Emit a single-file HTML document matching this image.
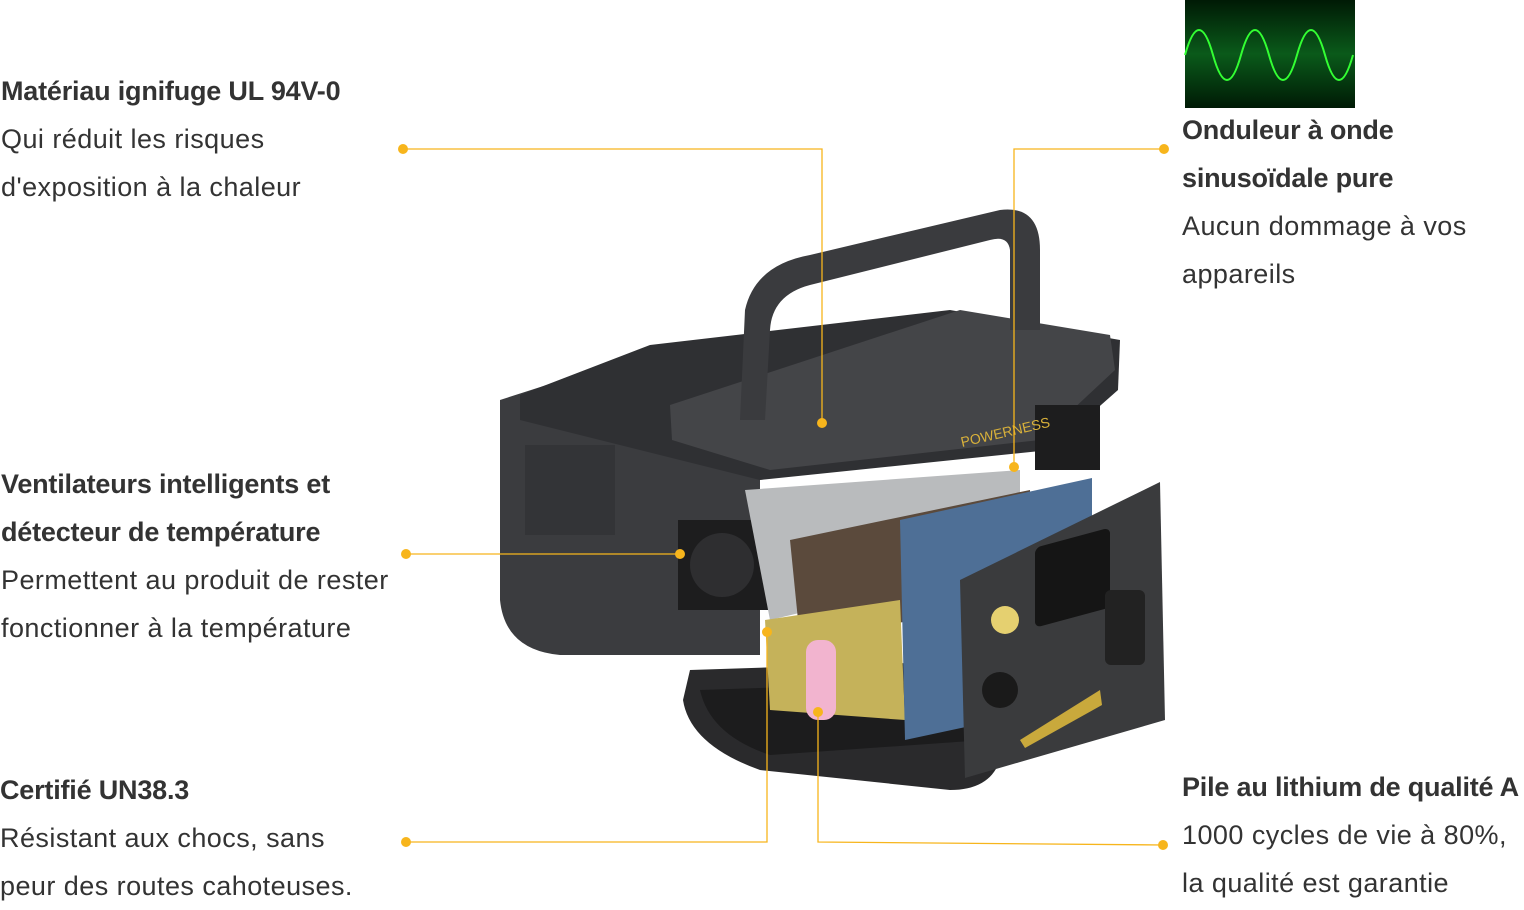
<!DOCTYPE html>
<html><head><meta charset="utf-8"><style>
body{margin:0;width:1524px;height:902px;background:#fff;overflow:hidden;position:relative;font-family:"Liberation Sans",Arial,sans-serif;color:#333}
.t{position:absolute;font-size:27px;line-height:48px;white-space:nowrap;letter-spacing:0.45px}
.b{font-weight:bold;letter-spacing:-0.2px}
</style></head><body>
<svg width="1524" height="902" style="position:absolute;left:0;top:0">
<defs><linearGradient id="g" x1="0" x2="0" y1="0" y2="1"><stop offset="0" stop-color="#001a05"/><stop offset=".5" stop-color="#0a5a1a"/><stop offset="1" stop-color="#001a05"/></linearGradient></defs>
<rect x="1185" y="0" width="170" height="108" fill="url(#g)"/>
<path d="M1185 55 Q1199 5 1213 55 T1241 55 T1269 55 T1297 55 T1325 55 T1353 55" stroke="#3f3" stroke-width="2" fill="none"/>
<path d="M690 670 L1000 660 L1000 760 Q990 790 950 790 L760 770 Q690 745 683 700 Z" fill="#2a2a2c"/>
<path d="M700 690 L990 680 L985 740 L770 755 Q710 735 700 690Z" fill="#1c1c1d"/>
<path d="M500 400 L640 355 L760 360 L760 655 L560 655 Q505 650 500 600 Z" fill="#3b3c3f"/>
<rect x="525" y="445" width="90" height="90" fill="#333437"/>
<path d="M520 395 L650 345 L950 310 L1120 340 L1118 390 L1050 450 L760 480 L520 420 Z" fill="#2f3033"/>
<path d="M670 405 L960 310 L1110 335 L1115 370 L1040 440 L770 470 L672 440 Z" fill="#444548"/>
<path d="M740 420 L745 310 Q755 265 810 255 L1000 210 Q1040 205 1040 250 L1040 330 L1010 330 L1010 250 Q1008 235 990 240 L810 285 Q772 295 770 330 L765 420 Z" fill="#3a3b3e"/>
<rect x="678" y="520" width="90" height="90" fill="#1d1d1e"/>
<circle cx="722" cy="565" r="32" fill="#2e2e30"/>
<rect x="1035" y="405" width="65" height="65" fill="#1d1d1e"/>
<path d="M745 490 L1020 470 L1020 560 L770 620 Z" fill="#b9bbbd"/>
<path d="M790 540 L1030 490 L1030 600 L800 640 Z" fill="#5b4a3c"/>
<path d="M765 620 L900 600 L905 720 L770 710 Z" fill="#c5b25a"/>
<rect x="806" y="640" width="30" height="80" rx="12" fill="#f2b4cf"/>
<path d="M900 520 L1092 478 L1092 700 L905 740 Z" fill="#4e6f96"/>
<path d="M960 580 L1160 482 L1165 720 L965 778 Z" fill="#3a3b3d"/>
<rect x="1035" y="545" width="75" height="80" rx="6" fill="#151515" transform="skewY(-15) translate(0,280)"/>
<circle cx="1005" cy="620" r="14" fill="#e5d070"/>
<circle cx="1000" cy="690" r="18" fill="#1a1a1a"/>
<rect x="1105" y="590" width="40" height="75" rx="6" fill="#222"/>
<path d="M1020 740 L1100 690 L1102 705 L1025 748Z" fill="#c9a93c"/>
<text x="962" y="447" font-size="14" fill="#d9b13a" transform="rotate(-13 962 447)" font-family="Liberation Sans">POWERNESS</text>
<g stroke="#f7b51c" stroke-width="1.3" fill="none">
<path d="M403 149 H822 V423"/><path d="M1164 149 H1014 V467"/><path d="M406 554 H680"/>
<path d="M406 842 H767 V632"/><path d="M1163 845 L818 842 V712"/>
</g>
<g fill="#f7b51c">
<circle cx="403" cy="149" r="5"/><circle cx="822" cy="423" r="5"/><circle cx="1164" cy="149" r="5"/><circle cx="1014" cy="467" r="5"/>
<circle cx="406" cy="554" r="5"/><circle cx="680" cy="554" r="5"/><circle cx="406" cy="842" r="5"/><circle cx="767" cy="632" r="5"/>
<circle cx="1163" cy="845" r="5"/><circle cx="818" cy="712" r="5"/>
</g>
</svg>
<div class="t" style="left:1px;top:67px"><span class="b">Matériau ignifuge UL 94V-0</span><br>Qui réduit les risques<br>d'exposition à la chaleur</div>
<div class="t" style="left:1182px;top:106px"><span class="b">Onduleur à onde<br>sinusoïdale pure</span><br>Aucun dommage à vos<br>appareils</div>
<div class="t" style="left:1px;top:460px"><span class="b">Ventilateurs intelligents et<br>détecteur de température</span><br>Permettent au produit de rester<br>fonctionner à la température</div>
<div class="t" style="left:0px;top:766px"><span class="b">Certifié UN38.3</span><br>Résistant aux chocs, sans<br>peur des routes cahoteuses.</div>
<div class="t" style="left:1182px;top:763px"><span class="b">Pile au lithium de qualité A</span><br>1000 cycles de vie à 80%,<br>la qualité est garantie</div>
</body></html>
